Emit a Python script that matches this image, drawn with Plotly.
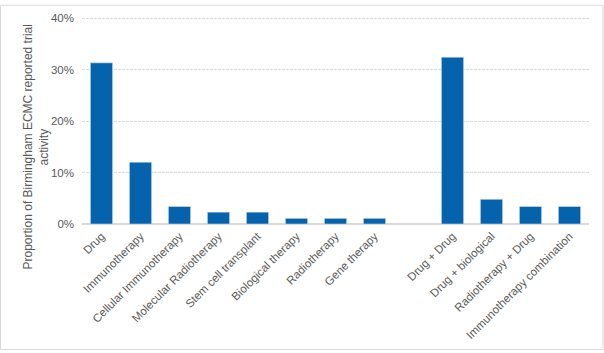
import plotly.graph_objects as go

categories = ["Drug", "Immunotherapy", "Cellular Immunotherapy", "Molecular Radiotherapy",
              "Stem cell transplant", "Biological therapy", "Radiotherapy", "Gene therapy",
              " ",
              "Drug + Drug", "Drug + biological", "Radiotherapy + Drug", "Immunotherapy combination"]
values = [0.313, 0.120, 0.034, 0.023, 0.023, 0.011, 0.011, 0.011,
          None,
          0.324, 0.048, 0.034, 0.034]
y_ticks = [0, 0.1, 0.2, 0.3, 0.4]
y_title_lines = ["Proportion of Birmingham ECMC reported trial", "activity"]

fig = go.Figure(go.Bar(x=categories, y=values, marker_color="#0563ae", width=0.57))

title_x = [28, 44]
annotations = [dict(text=t, textangle=-90, xref="paper", yref="paper",
                    x=(px - 82) / 507, y=(224 - 146) / 211, xanchor="center", yanchor="middle",
                    showarrow=False, font=dict(size=12, color="#595959"))
               for t, px in zip(y_title_lines, title_x)]

fig.update_layout(
    width=604, height=353,
    margin=dict(l=82, r=15, t=13, b=129),
    paper_bgcolor="white", plot_bgcolor="white",
    font=dict(family="Liberation Sans", size=11, color="#595959"),
    showlegend=False,
    xaxis=dict(type="category", categoryorder="array", categoryarray=categories,
               tickangle=-45, showgrid=False, showline=True, linecolor="#d9d9d9",
               ticks="", tickfont=dict(size=11.5, color="#595959")),
    yaxis=dict(range=[0, 0.402], tickvals=y_ticks, tickformat=".0%",
               showgrid=True, gridcolor="#d9d9d9", griddash="3px,1px", gridwidth=1,
               zeroline=True, zerolinecolor="#d9d9d9", ticks="", ticklen=0,
               ticklabelstandoff=7,
               tickfont=dict(size=11.5, color="#595959")),
    annotations=annotations,
    shapes=[dict(type="rect", xref="paper", yref="paper", x0=-81.5/507, x1=1+14/507,
                 y0=-128/211, y1=1+12/211, line=dict(color="#d9d9d9", width=1))],
)

fig.write_html("out.html")
